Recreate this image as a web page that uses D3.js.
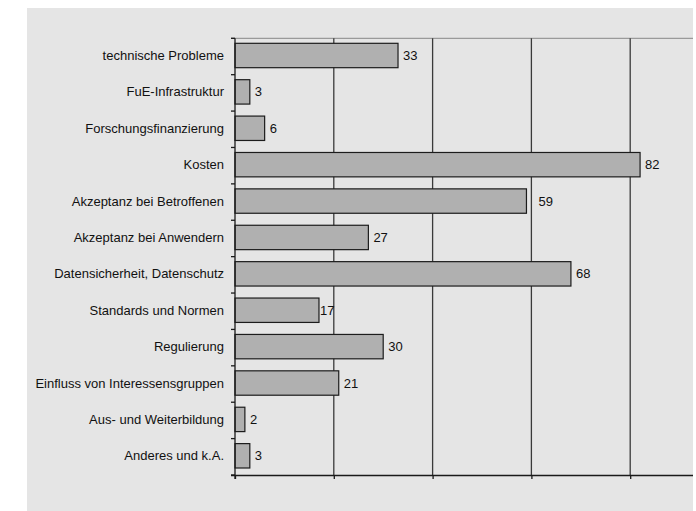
<!DOCTYPE html>
<html>
<head>
<meta charset="utf-8">
<script src="https://cdn.jsdelivr.net/npm/d3@7"></script>
<style>
  html, body { margin: 0; padding: 0; background: #ffffff; }
  svg { display: block; }
  text { font-family: "Liberation Sans", Arial, sans-serif; fill: #111; }
</style>
</head>
<body>
<script>
// Hemmnisse – Anzahl der Nennungen je Kategorie
const categories = [
  "technische Probleme",
  "FuE-Infrastruktur",
  "Forschungsfinanzierung",
  "Kosten",
  "Akzeptanz bei Betroffenen",
  "Akzeptanz bei Anwendern",
  "Datensicherheit, Datenschutz",
  "Standards und Normen",
  "Regulierung",
  "Einfluss von Interessensgruppen",
  "Aus- und Weiterbildung",
  "Anderes und k.A."
];
const values = [33, 3, 6, 82, 59, 27, 68, 17, 30, 21, 2, 3];
const xTicks = [0, 20, 40, 60, 80, 100];

// layout
const W = 696, H = 511;
const panel = { x: 27, y: 8, w: 666, h: 503 };
const plot = { left: 235, top: 38.3, bottom: 475, right: 729 };
const clipRight = 693;
// small horizontal nudges of individual value labels (px)
const labelNudge = { "Akzeptanz bei Betroffenen": 7, "Standards und Normen": -4 };

const svg = d3.select("body").append("svg")
  .attr("width", W).attr("height", H);

svg.append("rect")
  .attr("x", panel.x).attr("y", panel.y)
  .attr("width", panel.w).attr("height", panel.h)
  .attr("fill", "#e5e5e5");

svg.append("defs").append("clipPath").attr("id", "plotClip")
  .append("rect")
  .attr("x", 0).attr("y", 0)
  .attr("width", clipRight).attr("height", H);

const x = d3.scaleLinear().domain([0, 100]).range([plot.left, plot.right]);
const y = d3.scaleBand().domain(categories)
  .range([plot.top, plot.bottom])
  .paddingInner(0.33).paddingOuter(0.165);

const g = svg.append("g").attr("clip-path", "url(#plotClip)");

// top border of the plot area
g.append("line")
  .attr("x1", plot.left - 4).attr("x2", plot.right)
  .attr("y1", plot.top).attr("y2", plot.top)
  .attr("stroke", "#9a9a9a").attr("stroke-width", 1.2);

// vertical gridlines
g.selectAll("line.grid")
  .data(xTicks.filter(d => d > 0))
  .join("line")
  .attr("class", "grid")
  .attr("x1", d => x(d)).attr("x2", d => x(d))
  .attr("y1", plot.top).attr("y2", plot.bottom)
  .attr("stroke", "#3a3a3a").attr("stroke-width", 1.3);

// bars
const bars = g.selectAll("g.bar")
  .data(categories.map((c, i) => ({ c, v: values[i] })))
  .join("g").attr("class", "bar");

bars.append("rect")
  .attr("x", x(0))
  .attr("y", d => y(d.c) - 1)
  .attr("width", d => x(d.v) - x(0))
  .attr("height", y.bandwidth())
  .attr("fill", "#b0b0b0")
  .attr("stroke", "#1c1c1c")
  .attr("stroke-width", 1.2);

bars.append("text")
  .attr("x", d => x(d.v) + 5 + (labelNudge[d.c] || 0))
  .attr("y", d => y(d.c) - 1 + y.bandwidth() / 2)
  .attr("dy", "0.35em")
  .attr("font-size", 13)
  .text(d => d.v);

// x axis (no tick labels)
const xAxis = d3.axisBottom(x).tickValues(xTicks).tickSize(4).tickFormat("");
const gx = g.append("g")
  .attr("transform", `translate(0,${plot.bottom})`)
  .call(xAxis);
gx.select(".domain").attr("d", `M${plot.left - 4},0.5H${plot.right}`)
  .attr("stroke", "#1a1a1a").attr("stroke-width", 1.3);
gx.selectAll(".tick line").attr("stroke", "#1a1a1a").attr("stroke-width", 1.3);

// y axis: ticks on band boundaries, labels at band centres
const yAxisLine = svg.append("g");
yAxisLine.append("line")
  .attr("x1", plot.left).attr("x2", plot.left)
  .attr("y1", plot.top).attr("y2", plot.bottom + 4)
  .attr("stroke", "#1a1a1a").attr("stroke-width", 1.3);

const boundaries = categories.map(c => y(c) - y.step() * y.paddingInner() / 2);
boundaries.push(plot.bottom);
yAxisLine.selectAll("line.ytick")
  .data(boundaries)
  .join("line")
  .attr("class", "ytick")
  .attr("x1", plot.left - 4).attr("x2", plot.left)
  .attr("y1", d => d).attr("y2", d => d)
  .attr("stroke", "#1a1a1a").attr("stroke-width", 1.3);

yAxisLine.selectAll("text.ylab")
  .data(categories)
  .join("text")
  .attr("class", "ylab")
  .attr("x", plot.left - 11)
  .attr("y", d => y(d) - 1 + y.bandwidth() / 2)
  .attr("dy", "0.35em")
  .attr("text-anchor", "end")
  .attr("font-size", 13)
  .text(d => d);
</script>
</body>
</html>
